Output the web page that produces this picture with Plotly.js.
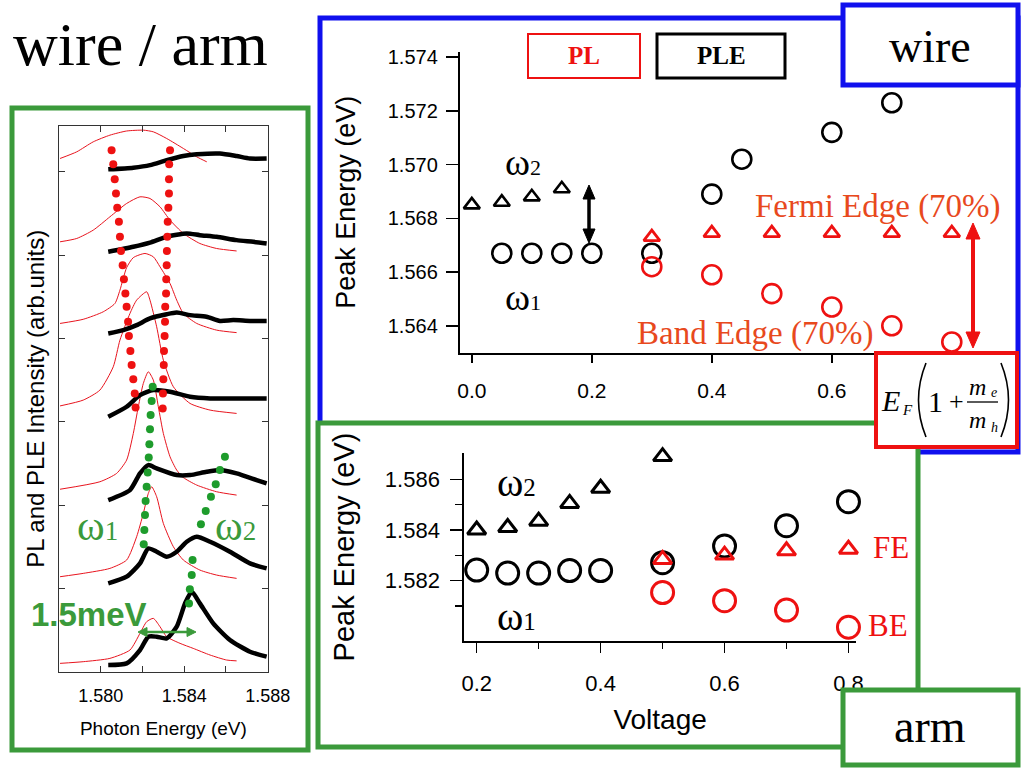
<!DOCTYPE html>
<html><head><meta charset="utf-8">
<script src="https://cdn.plot.ly/plotly-3.0.1.min.js"></script>
<style>html,body{margin:0;padding:0;background:#fff}#chart{width:1024px;height:768px}</style>
</head><body><div id="chart"></div>
<script>
// ---------- wire panel (top right) ----------
const wireW2V = [0, 0.05, 0.1, 0.15];
const wireW2E = [1.5685, 1.5686, 1.5688, 1.5691];
const wirePleV = [0.05, 0.1, 0.15, 0.2, 0.3, 0.4, 0.45, 0.6, 0.7];
const wirePleE = [1.5667, 1.5667, 1.5667, 1.5667, 1.5667, 1.5689, 1.5702, 1.5712, 1.5723];
const wireFeV = [0.3, 0.4, 0.5, 0.6, 0.7, 0.8];
const wireFeE = [1.5673, 1.56745, 1.56745, 1.56745, 1.56745, 1.56745];
const wireBeV = [0.3, 0.4, 0.5, 0.6, 0.7, 0.8];
const wireBeE = [1.5662, 1.5659, 1.5652, 1.5647, 1.5640, 1.5634];
const wireYTicks = [1.564, 1.566, 1.568, 1.570, 1.572, 1.574];
const wireXTicks = [0.0, 0.2, 0.4, 0.6];   // the 0.8 label is hidden by the formula box

// ---------- arm panel (bottom) ----------
const armW2V = [0.2, 0.25, 0.3, 0.35, 0.4, 0.5];
const armW2E = [1.5840, 1.5841, 1.58435, 1.58505, 1.58565, 1.5869];
const armPleV = [0.2, 0.25, 0.3, 0.35, 0.4, 0.5, 0.6, 0.7, 0.8];
const armPleE = [1.58242, 1.5823, 1.5823, 1.5824, 1.5824, 1.58271, 1.58337, 1.58417, 1.58512];
const armFeV = [0.5, 0.6, 0.7, 0.8];
const armFeE = [1.58284, 1.58301, 1.58318, 1.58324];
const armBeV = [0.5, 0.6, 0.7, 0.8];
const armBeE = [1.58153, 1.58121, 1.58084, 1.58016];
const armXTicks = [0.2, 0.4, 0.6, 0.8];

// ---------- spectra panel (left) ----------
const ple1E = [1.58036,1.58156,1.58236,1.58316,1.58396,1.58460,1.58571,1.58651,1.58715,1.58795];
const ple1I = [6.03,6.05,6.08,6.14,6.19,6.21,6.22,6.19,6.16,6.16];
const ple2E = [1.58036,1.58156,1.58236,1.58316,1.58412,1.58475,1.58555,1.58651,1.58731,1.58795];
const ple2I = [5.04,5.10,5.15,5.22,5.26,5.24,5.22,5.18,5.16,5.14];
const ple3E = [1.58036,1.58108,1.58172,1.58236,1.58316,1.58364,1.58428,1.58507,1.58571,1.58635,1.58715,1.58795];
const ple3I = [4.06,4.10,4.16,4.24,4.29,4.31,4.28,4.26,4.21,4.22,4.21,4.21];
const ple4E = [1.58036,1.58124,1.58188,1.58252,1.58332,1.58428,1.58524,1.58651,1.58795];
const ple4I = [3.06,3.18,3.32,3.38,3.36,3.30,3.28,3.28,3.28];
const ple5E = [1.58036,1.58140,1.58188,1.58228,1.58268,1.58364,1.58428,1.58507,1.58571,1.58651,1.58747,1.58795];
const ple5I = [2.06,2.18,2.38,2.48,2.44,2.36,2.36,2.40,2.42,2.38,2.30,2.26];
const ple6E = [1.58036,1.58124,1.58188,1.58228,1.58268,1.58316,1.58364,1.58412,1.58460,1.58524,1.58619,1.58715,1.58795];
const ple6I = [1.06,1.14,1.30,1.48,1.44,1.38,1.44,1.56,1.62,1.56,1.44,1.30,1.24];
const ple7E = [1.58036,1.58124,1.58188,1.58228,1.58268,1.58316,1.58364,1.58404,1.58436,1.58475,1.58539,1.58619,1.58715,1.58795];
const ple7I = [0.08,0.10,0.26,0.42,0.42,0.40,0.54,0.82,0.96,0.82,0.58,0.38,0.24,0.18];

const pl1E = [1.57805,1.57885,1.57964,1.58044,1.58124,1.58204,1.58252,1.58316,1.58396,1.58460,1.58508];
const pl1I = [6.16,6.24,6.36,6.44,6.49,6.50,6.48,6.40,6.28,6.18,6.12];
const pl2E = [1.57805,1.57885,1.57964,1.58044,1.58124,1.58188,1.58236,1.58284,1.58332,1.58396,1.58475,1.58555,1.58651];
const pl2I = [5.16,5.20,5.30,5.46,5.62,5.70,5.68,5.58,5.42,5.26,5.14,5.08,5.05];
const pl3E = [1.57805,1.57916,1.58012,1.58068,1.58092,1.58124,1.58156,1.58212,1.58252,1.58284,1.58332,1.58364,1.58396,1.58460,1.58555,1.58651];
const pl3I = [4.18,4.23,4.32,4.42,4.58,4.85,4.97,5.02,4.98,4.86,4.66,4.46,4.30,4.18,4.10,4.07];
const pl4E = [1.57805,1.57916,1.57996,1.58060,1.58092,1.58140,1.58172,1.58220,1.58236,1.58268,1.58300,1.58348,1.58428,1.58524,1.58651];
const pl4I = [3.19,3.26,3.38,3.66,3.98,4.30,4.46,4.56,4.46,4.14,3.74,3.42,3.22,3.14,3.10];
const pl5E = [1.57805,1.57996,1.58076,1.58124,1.58156,1.58180,1.58204,1.58228,1.58252,1.58276,1.58300,1.58332,1.58364,1.58396,1.58460,1.58555,1.58651];
const pl5I = [2.19,2.28,2.38,2.54,2.86,3.18,3.46,3.60,3.50,3.18,2.86,2.58,2.42,2.33,2.24,2.16,2.12];
const pl6E = [1.57805,1.57916,1.58044,1.58124,1.58172,1.58204,1.58228,1.58244,1.58268,1.58300,1.58348,1.58396,1.58475,1.58555,1.58651];
const pl6I = [1.14,1.18,1.24,1.34,1.62,1.90,2.14,2.22,2.10,1.78,1.50,1.34,1.22,1.16,1.12];
const pl7E = [1.57805,1.57916,1.58044,1.58140,1.58188,1.58220,1.58252,1.58284,1.58316,1.58380,1.58443,1.58524,1.58603,1.58651];
const pl7I = [0.10,0.12,0.16,0.26,0.46,0.60,0.64,0.54,0.42,0.34,0.28,0.20,0.14,0.13];

const redDotsLE = [1.58052,1.58060,1.58067,1.58073,1.58079,1.58087,1.58092,1.58097,1.58105,1.58111,1.58118,1.58124,1.58131,1.58135,1.58142,1.58148,1.58156,1.58163,1.58167];
const redDotsLI = [6.26,6.09,5.91,5.74,5.57,5.40,5.22,5.05,4.88,4.71,4.54,4.38,4.20,4.03,3.85,3.68,3.51,3.34,3.17];
const redDotsRE = [1.58332,1.58328,1.58327,1.58327,1.58324,1.58321,1.58319,1.58317,1.58316,1.58314,1.58313,1.58309,1.58308,1.58306,1.58303,1.58302,1.58300,1.58298,1.58297];
const redDotsRI = [6.26,6.09,5.91,5.74,5.57,5.40,5.22,5.05,4.88,4.71,4.54,4.38,4.20,4.03,3.85,3.68,3.51,3.34,3.16];
const grnDotsW1E = [1.58249,1.58244,1.58239,1.58236,1.58233,1.58230,1.58225,1.58220,1.58215,1.58212,1.58209,1.58206];
const grnDotsW1I = [3.42,3.25,3.08,2.91,2.73,2.57,2.39,2.22,2.05,1.88,1.70,1.53];
const grnDotsW2E = [1.58595,1.58571,1.58551,1.58528,1.58503,1.58480,1.58440,1.58436,1.58427,1.58423];
const grnDotsW2I = [2.58,2.42,2.25,2.10,1.93,1.77,1.34,1.16,0.99,0.82];
const specXTicks = [1.580, 1.584, 1.588];
const specXMinor = [1.582, 1.586];
const specYTicks = [1, 2, 3, 4, 5, 6];

// ---------- styling ----------
const W = 1024, H = 768;
const px = x => x / W, py = y => 1 - y / H;
const SANS = 'Liberation Sans, Arial, sans-serif';
const SERIF = 'Liberation Serif, Times New Roman, serif';
const RED = '#ee1111', ORANGE = '#e8491d', GREEN = '#3b9a3b', DOTG = '#1e9c2c', BLUE = '#1010ee';

const traces = [];
function mk(x, y, xa, ya, sym, size, color, lw) {
  traces.push({x, y, xaxis: xa, yaxis: ya, type: 'scatter', mode: 'markers', cliponaxis: false, hoverinfo: 'skip',
    marker: {symbol: sym, size, color, line: {color, width: lw}}});
}
// top
mk(wireW2V, wireW2E, 'x', 'y', 'triangle-up-open', 14, '#000', 2.6);
mk(wirePleV, wirePleE, 'x', 'y', 'circle-open', 19, '#000', 2.6);
mk(wireFeV, wireFeE, 'x', 'y', 'triangle-up-open', 14, RED, 2.8);
mk(wireBeV, wireBeE, 'x', 'y', 'circle-open', 19, RED, 2.6);
// bottom
mk(armW2V, armW2E, 'x2', 'y2', 'triangle-up-open', 16, '#000', 3);
mk(armPleV, armPleE, 'x2', 'y2', 'circle-open', 22, '#000', 3);
mk(armFeV, armFeE, 'x2', 'y2', 'triangle-up-open', 16, RED, 3);
mk(armBeV, armBeE, 'x2', 'y2', 'circle-open', 22, RED, 3);
// left spectra
const pls = [[pl1E,pl1I],[pl2E,pl2I],[pl3E,pl3I],[pl4E,pl4I],[pl5E,pl5I],[pl6E,pl6I],[pl7E,pl7I]];
const ples = [[ple1E,ple1I],[ple2E,ple2I],[ple3E,ple3I],[ple4E,ple4I],[ple5E,ple5I],[ple6E,ple6I],[ple7E,ple7I]];
pls.forEach(([x, y]) => traces.push({x, y, xaxis: 'x3', yaxis: 'y3', type: 'scatter', mode: 'lines', hoverinfo: 'skip',
  line: {color: '#e8141e', width: 1, shape: 'spline', smoothing: 0.6}}));
ples.forEach(([x, y]) => traces.push({x, y, xaxis: 'x3', yaxis: 'y3', type: 'scatter', mode: 'lines', hoverinfo: 'skip',
  line: {color: '#000', width: 4.5, shape: 'spline', smoothing: 0.6}}));
[[redDotsLE, redDotsLI, RED], [redDotsRE, redDotsRI, RED], [grnDotsW1E, grnDotsW1I, DOTG], [grnDotsW2E, grnDotsW2I, DOTG]]
  .forEach(([x, y, c]) => traces.push({x, y, xaxis: 'x3', yaxis: 'y3', type: 'scatter', mode: 'markers', hoverinfo: 'skip',
    cliponaxis: false, marker: {size: 8, color: c}}));

const baseAx = {showline: true, linecolor: '#000', showgrid: false, zeroline: false, color: '#000'};
const layout = {
  width: W, height: H, margin: {l: 0, r: 0, t: 0, b: 0}, showlegend: false,
  paper_bgcolor: '#fff', plot_bgcolor: 'rgba(0,0,0,0)', font: {family: SANS, color: '#000'},
  xaxis: Object.assign({}, baseAx, {domain: [px(459.8), px(963.8)], range: [-0.02, 0.82], anchor: 'y',
    linewidth: 2, ticks: 'outside', ticklen: 8, tickwidth: 1.5, tickvals: wireXTicks, tickformat: '.1f',
    tickfont: {size: 21}, ticklabelstandoff: 10}),
  yaxis: Object.assign({}, baseAx, {domain: [py(352.7), py(51.7)], range: [1.563, 1.5742], anchor: 'x',
    linewidth: 2, ticks: 'outside', ticklen: 12, tickwidth: 1.5, tickvals: wireYTicks, tickformat: '.3f',
    tickfont: {size: 20}, ticklabelstandoff: 4,
    title: {text: 'Peak Energy (eV)', font: {size: 27}, standoff: 24}}),
  xaxis2: Object.assign({}, baseAx, {domain: [px(464.3), px(855.9)], range: [0.18, 0.812], anchor: 'y2',
    linewidth: 2, ticks: 'outside', ticklen: 10, tickwidth: 1.5, tickvals: armXTicks, tickformat: '.1f',
    minor: {tickvals: [0.3, 0.5, 0.7], ticks: 'outside', ticklen: 6, tickwidth: 1.5, tickcolor: '#000'},
    tickfont: {size: 22}, ticklabelstandoff: 12,
    title: {text: 'Voltage', font: {size: 28}, standoff: 14}}),
  yaxis2: Object.assign({}, baseAx, {domain: [py(640.7), py(453.3)], range: [1.57963, 1.58703], anchor: 'x2',
    linewidth: 2, ticks: 'outside', ticklen: 12, tickwidth: 1.5, tickvals: [1.582, 1.584, 1.586], tickformat: '.3f',
    minor: {tickvals: [1.581, 1.583, 1.585], ticks: 'outside', ticklen: 7, tickwidth: 1.5, tickcolor: '#000'},
    tickfont: {size: 22}, ticklabelstandoff: 6,
    title: {text: 'Peak Energy (eV)', font: {size: 29}, standoff: 22}}),
  xaxis3: Object.assign({}, baseAx, {domain: [px(59), px(267.7)], range: [1.578, 1.588], anchor: 'y3',
    linewidth: 1, linecolor: '#333', mirror: 'ticks', ticks: 'inside', ticklen: 6, tickcolor: '#333',
    tickvals: specXTicks, tickformat: '.3f', tickfont: {size: 18}, ticklabelstandoff: 8,
    minor: {tickvals: specXMinor, ticks: 'inside', ticklen: 6, tickcolor: '#333'},
    title: {text: 'Photon Energy (eV)', font: {size: 19}, standoff: 16}}),
  yaxis3: Object.assign({}, baseAx, {domain: [py(671.7), py(126)], range: [0, 6.55], anchor: 'x3',
    linewidth: 1, linecolor: '#333', mirror: 'ticks', ticks: 'inside', ticklen: 6, tickcolor: '#333',
    tickvals: specYTicks, showticklabels: false,
    title: {text: 'PL and PLE Intensity (arb.units)', font: {size: 24}, standoff: 6}}),
  shapes: [],
  annotations: []
};

function rect(x0, y0, x1, y1, color, w, layer, fill) {
  layout.shapes.push({type: 'rect', xref: 'paper', yref: 'paper', x0: px(x0), x1: px(x1), y0: py(y1), y1: py(y0),
    line: {color, width: w}, fillcolor: fill || 'rgba(0,0,0,0)', layer});
}
function curve(x0, y0, xc, yc, x1, y1, w) {
  layout.shapes.push({type: 'path', xref: 'paper', yref: 'paper', layer: 'above', line: {color: '#000', width: w},
    path: `M ${px(x0)} ${py(y0)} Q ${px(xc)} ${py(yc)} ${px(x1)} ${py(y1)}`});
}
function seg(x0, y0, x1, y1, color, w) {
  layout.shapes.push({type: 'line', xref: 'paper', yref: 'paper', x0: px(x0), x1: px(x1), y0: py(y0), y1: py(y1),
    line: {color, width: w}, layer: 'above'});
}
function head(ax, ay, dx, dy, len, half, color) {
  const bx = ax - dx * len, by = ay - dy * len;
  const p1 = [bx - dy * half, by + dx * half], p2 = [bx + dy * half, by - dx * half];
  layout.shapes.push({type: 'path', xref: 'paper', yref: 'paper', layer: 'above', fillcolor: color,
    line: {color, width: 1},
    path: `M ${px(ax)} ${py(ay)} L ${px(p1[0])} ${py(p1[1])} L ${px(p2[0])} ${py(p2[1])} Z`});
}
function dblArrow(x0, y0, x1, y1, color, w, len, half) {
  const L = Math.hypot(x1 - x0, y1 - y0), dx = (x1 - x0) / L, dy = (y1 - y0) / L;
  seg(x0 + dx * len * 0.8, y0 + dy * len * 0.8, x1 - dx * len * 0.8, y1 - dy * len * 0.8, color, w);
  head(x1, y1, dx, dy, len, half, color);
  head(x0, y0, -dx, -dy, len, half, color);
}
rect(320, 18, 1018, 452, BLUE, 5, 'below');
rect(318, 423, 918, 747, GREEN, 5, 'below', '#fff');
rect(12, 108, 308, 750, GREEN, 5, 'below');
rect(843, 5, 1018, 85, BLUE, 5, 'above', '#fff');
rect(843, 690, 1018, 765, GREEN, 5, 'above', '#fff');
rect(528, 34, 640, 78, RED, 2, 'above');
rect(657, 34, 785, 78, '#000', 3, 'above');
rect(876, 353, 1017, 447, RED, 4, 'above', '#fff');
seg(967, 402, 998, 402, '#000', 1.3);
curve(926, 363, 911, 400, 926, 437, 1.6);
curve(1001, 363, 1016, 400, 1001, 437, 1.6);
dblArrow(589, 185, 589, 243, '#000', 3.5, 14, 6);
dblArrow(973, 223, 973, 348, RED, 4, 16, 7);
dblArrow(138, 632, 196, 632, GREEN, 2.5, 9, 4.5);

function txt(text, x, y, size, color, family, opts) {
  layout.annotations.push(Object.assign({text, x: px(x), y: py(y), xref: 'paper', yref: 'paper', showarrow: false,
    xanchor: 'center', yanchor: 'middle', font: {size, color: color || '#000', family: family || SERIF}}, opts || {}));
}
const om = (sub, small) => `ω<span style="font-size:${small}px">${sub}</span>`;

txt('wire / arm', 11, 44, 62, '#000', SERIF, {xanchor: 'left'});
txt('wire', 930, 46, 46);
txt('arm', 930, 726, 46);
txt('<b>PL</b>', 584, 56, 25, RED);
txt('<b>PLE</b>', 721, 56, 25, '#000');
txt(om('2', 22), 523, 162, 38);
txt(om('1', 22), 523, 297, 38);
txt('Fermi Edge (70%)', 878, 206, 33, ORANGE);
txt('Band Edge (70%)', 755, 333, 33, ORANGE);
txt(om('2', 25), 516, 482, 40);
txt(om('1', 25), 516, 616, 40);
txt('FE', 891, 547, 31, RED);
txt('BE', 888, 625, 31, RED);
txt('<b>1.5meV</b>', 89, 614, 33, GREEN, SANS);
txt(om('1', 27), 97, 526, 42, GREEN);
txt(om('2', 27), 235, 526, 42, GREEN);
// formula E_F(1 + m_e/m_h)
txt('<i>E</i>', 890, 400, 30);
txt('<i>F</i>', 907, 410, 15);
txt('1', 935, 401, 30);
txt('+', 956, 401, 26);
txt('<i>m</i>', 977, 387, 24);
txt('<i>e</i>', 994, 392, 14);
txt('<i>m</i>', 977, 420, 24);
txt('<i>h</i>', 994, 427, 14);

Plotly.newPlot('chart', traces, layout, {displayModeBar: false, staticPlot: true});
</script></body></html>
